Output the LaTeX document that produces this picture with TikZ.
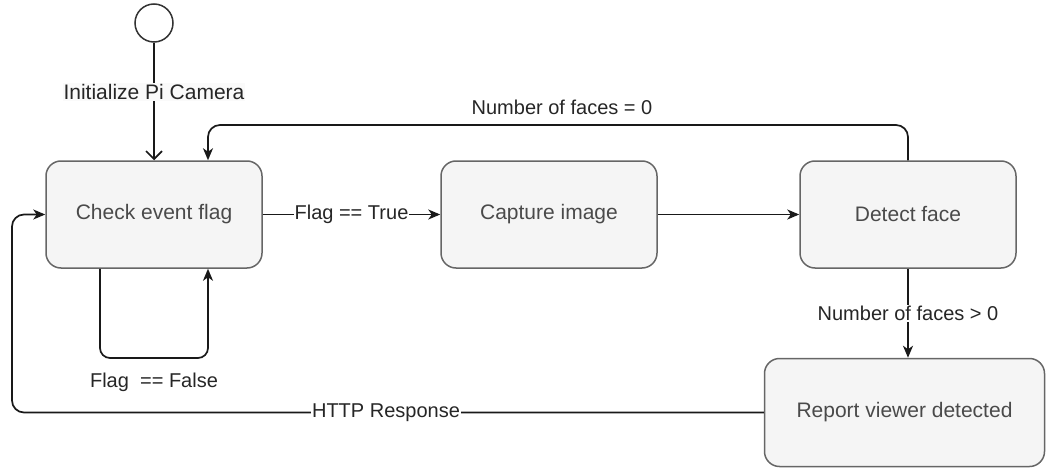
\documentclass[tikz,border=0pt]{standalone}
\usepackage{fontspec}
\setmainfont{Liberation Sans}
\usetikzlibrary{arrows.meta}
\definecolor{boxfill}{HTML}{F5F5F5}
\definecolor{boxline}{HTML}{666666}
\definecolor{boxtext}{HTML}{4A4A4A}
\begin{document}
\begin{tikzpicture}[x=1pt,y=-1pt,
  statebox/.style={draw=boxline,fill=boxfill,line width=1.5pt,rounded corners=15pt,
    text=boxtext,font=\fontsize{21}{24}\selectfont,inner sep=0pt},
  conn/.style={line width=1.7pt,draw=black!90},
  tip/.style={-{Stealth[length=12pt,width=10pt,inset=3.5pt]}},
  lbl/.style={font=\fontsize{20}{23}\selectfont,text=black!85,inner sep=1pt}]
\useasboundingbox (0,0) rectangle (1046,468);
\node[circle,draw=black!80,fill=white,line width=1.5pt,minimum size=38pt,inner sep=0pt] (start) at (154,23) {};
\node[statebox,minimum width=216pt,minimum height=107pt] (check) at (154,214.5) {Check event flag};
\node[statebox,minimum width=216pt,minimum height=107pt] (capture) at (549,214.5) {Capture image};
\node[statebox,minimum width=216pt,minimum height=107pt] (detect) at (908,214.5) {Detect face};
\node[statebox,minimum width=280pt,minimum height=108pt] (report) at (904.5,412.5) {Report viewer detected};
% start -> check
\draw[conn,-{Straight Barb[length=8pt,width=16pt]}] (start.south) -- (check.north)
  node[lbl,pos=0.42,fill=black!2,font=\fontsize{21}{24}\selectfont] {Initialize Pi Camera};
% check -> capture
\draw[conn,tip] (check.east) -- (capture.west) node[lbl,midway,fill=white] {Flag == True};
% capture -> detect
\draw[conn,tip] (capture.east) -- (detect.west);
% detect -> check (faces = 0)
\coordinate (t1) at (detect.north |- 0,125);
\coordinate (t2) at (208,125);
\coordinate (t3) at (208,0 |- check.north);
\draw[conn,tip,rounded corners=12pt] (detect.north) -- (t1) -- (t2) -- (t3);
\node[lbl] (l0) at (562,107) {Number of faces = 0};
% detect -> report
\draw[conn,tip] (detect.south) -- (detect.south |- report.north)
  node[lbl,midway,fill=white] {Number of faces > 0};
% flag false loop
\coordinate (f0) at (100,0 |- check.south);
\coordinate (f1) at (100,358);
\coordinate (f2) at (208,358);
\coordinate (f3) at (208,0 |- check.south);
\draw[conn,tip,rounded corners=10pt] (f0) -- (f1) -- (f2) -- (f3);
\node[lbl] (lf) at (154,382) {Flag\ \ == False};
% http response
\coordinate (h1) at (12,0 |- report.west);
\coordinate (h2) at (12,0 |- check.west);
\draw[conn,tip,rounded corners=12pt] (report.west) -- (h1) -- (h2) -- (check.west);
\node[lbl,fill=white] (lh) at (386,413) {HTTP Response};
\end{tikzpicture}
\end{document}
